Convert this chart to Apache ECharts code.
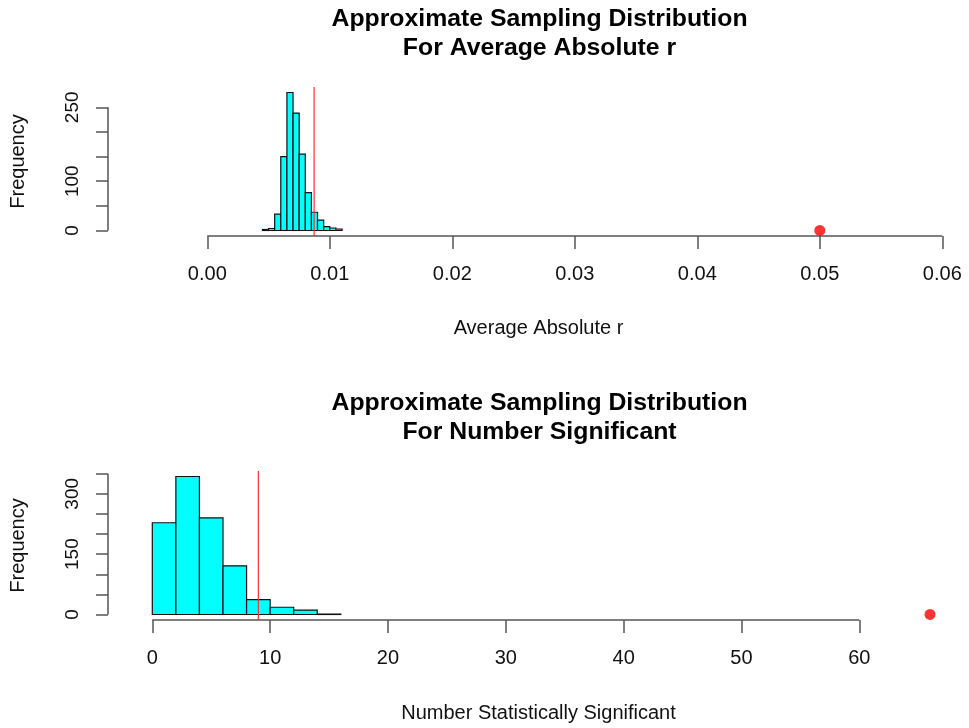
<!DOCTYPE html>
<html>
<head>
<meta charset="utf-8">
<script src="https://cdn.jsdelivr.net/npm/echarts@6/dist/echarts.min.js"></script>
<style>html,body{margin:0;padding:0;background:#fff}#c{width:969px;height:728px}</style>
</head>
<body>
<div id="c"></div>
<script>
// ---- Data ----
const topTitle = "Approximate Sampling Distribution\nFor Average Absolute r";
const bottomTitle = "Approximate Sampling Distribution\nFor Number Significant";
const topXLabel = "Average Absolute r";
const bottomXLabel = "Number Statistically Significant";
const yLabel = "Frequency";

const topBreaks = [0.0045, 0.005, 0.0055, 0.006, 0.0065, 0.007, 0.0075, 0.008, 0.0085, 0.009, 0.0095, 0.010, 0.0105, 0.011];
const topCounts = [2, 4, 33, 150, 280, 238, 155, 77, 37, 21, 8, 5, 3];
const topObserved = 0.05;
const topCritical = 0.00872;

const bottomBreaks = [0, 2, 4, 6, 8, 10, 12, 14, 16];
const bottomCounts = [228, 343, 240, 121, 37, 18, 11, 1];
const bottomObserved = 66;
const bottomCritical = 9;

const topXTicks = [0, 0.01, 0.02, 0.03, 0.04, 0.05, 0.06];
const topYTicks = [0, 50, 100, 150, 200, 250];
const topYLabels = [0, 100, 250];
const bottomXTicks = [0, 10, 20, 30, 40, 50, 60];
const bottomYTicks = [0, 50, 100, 150, 200, 250, 300, 350];
const bottomYLabels = [0, 150, 300];

// axis ranges (R-style 4% extended usr ranges)
const topXRange = [-0.008106, 0.06218];
const topYRange = [-11.2, 291.2];
const bottomXRange = [-3.76, 69.31];
const bottomYRange = [-13.72, 356.72];

function bins(breaks, counts) {
  return counts.map((c, i) => [breaks[i], breaks[i + 1], c]);
}

const FONT = "'Liberation Sans', Arial, Helvetica, sans-serif";
const AX = '#555';
const XFS = 20;
const YFS = 19;

function histSeries(idx, breaks, counts) {
  return {
    type: 'custom', xAxisIndex: idx, yAxisIndex: idx,
    data: bins(breaks, counts),
    encode: { x: [0, 1], y: 2 },
    renderItem: function (params, api) {
      const p0 = api.coord([api.value(0), 0]);
      const p1 = api.coord([api.value(1), api.value(2)]);
      return {
        type: 'rect',
        shape: { x: p0[0], y: p1[1], width: p1[0] - p0[0], height: p0[1] - p1[1] },
        style: { fill: '#00FFFF', stroke: '#111', lineWidth: 1.2 }
      };
    },
    silent: true, z: 2
  };
}

function lineSeg(idx, pts, color, width, z) {
  return {
    type: 'line', xAxisIndex: idx, yAxisIndex: idx, data: pts,
    symbol: 'none', clip: false, silent: true,
    lineStyle: { color: color, width: width }, z: z
  };
}

function xAxisDef(idx, range, ticks, name, gap, fmt) {
  return {
    type: 'value', gridIndex: idx, min: range[0], max: range[1],
    name: name, nameLocation: 'middle', nameGap: gap,
    nameTextStyle: { fontFamily: FONT, fontSize: XFS, color: '#111' },
    axisLine: { show: false, onZero: false },
    axisTick: { show: true, customValues: ticks, length: 13, inside: false, lineStyle: { color: AX, width: 1.5 } },
    axisLabel: { show: true, customValues: ticks, margin: 28, fontFamily: FONT, fontSize: XFS, color: '#111', formatter: fmt },
    splitLine: { show: false }
  };
}

function yAxisDef(idx, range, ticks, labels) {
  return {
    type: 'value', gridIndex: idx, min: range[0], max: range[1],
    name: yLabel, nameLocation: 'middle', nameGap: 80, nameRotate: 90,
    nameTextStyle: { fontFamily: FONT, fontSize: XFS, color: '#111' },
    axisLine: { show: false, onZero: false },
    axisTick: { show: true, customValues: ticks, length: 12, inside: false, lineStyle: { color: AX, width: 1.5 } },
    axisLabel: { show: true, customValues: labels, rotate: 90, margin: 26, fontFamily: FONT, fontSize: YFS, color: '#111' },
    splitLine: { show: false }
  };
}

const chart = echarts.init(document.getElementById('c'), null, { renderer: 'canvas' });
chart.setOption({
  animation: false,
  backgroundColor: '#fff',
  title: [
    { text: topTitle, left: 539.5, top: 5, padding: 0, textAlign: 'center',
      textStyle: { fontFamily: FONT, fontWeight: 'bold', fontSize: 24.8, lineHeight: 29, color: '#000' } },
    { text: bottomTitle, left: 539.5, top: 389, padding: 0, textAlign: 'center',
      textStyle: { fontFamily: FONT, fontWeight: 'bold', fontSize: 24.8, lineHeight: 29, color: '#000' } }
  ],
  grid: [
    { left: 108, top: 87, width: 861, height: 149 },
    { left: 108, top: 471, width: 861, height: 149 }
  ],
  xAxis: [
    xAxisDef(0, topXRange, topXTicks, topXLabel, 82, v => v.toFixed(2)),
    xAxisDef(1, bottomXRange, bottomXTicks, bottomXLabel, 83, v => String(v))
  ],
  yAxis: [
    yAxisDef(0, topYRange, topYTicks, topYLabels),
    yAxisDef(1, bottomYRange, bottomYTicks, bottomYLabels)
  ],
  series: [
    histSeries(0, topBreaks, topCounts),
    histSeries(1, bottomBreaks, bottomCounts),
    // R-style axis lines (from first to last tick)
    lineSeg(0, [[topXTicks[0], topYRange[0]], [topXTicks[topXTicks.length - 1], topYRange[0]]], AX, 1.5, 3),
    lineSeg(0, [[topXRange[0], topYTicks[0]], [topXRange[0], topYTicks[topYTicks.length - 1]]], AX, 1.5, 3),
    lineSeg(1, [[bottomXTicks[0], bottomYRange[0]], [bottomXTicks[bottomXTicks.length - 1], bottomYRange[0]]], AX, 1.5, 3),
    lineSeg(1, [[bottomXRange[0], bottomYTicks[0]], [bottomXRange[0], bottomYTicks[bottomYTicks.length - 1]]], AX, 1.5, 3),
    // critical value lines (abline v=...)
    lineSeg(0, [[topCritical, topYRange[0]], [topCritical, topYRange[1]]], '#ff3030', 1.2, 4),
    lineSeg(1, [[bottomCritical, bottomYRange[0]], [bottomCritical, bottomYRange[1]]], '#ff3030', 1.2, 4),
    // observed values
    { type: 'scatter', xAxisIndex: 0, yAxisIndex: 0, data: [[topObserved, 0]], symbolSize: 11,
      itemStyle: { color: '#ff0000' }, silent: true, z: 5 },
    { type: 'scatter', xAxisIndex: 1, yAxisIndex: 1, data: [[bottomObserved, 0]], symbolSize: 11,
      itemStyle: { color: '#ff0000' }, silent: true, z: 5 }
  ]
});
</script>
</body>
</html>
